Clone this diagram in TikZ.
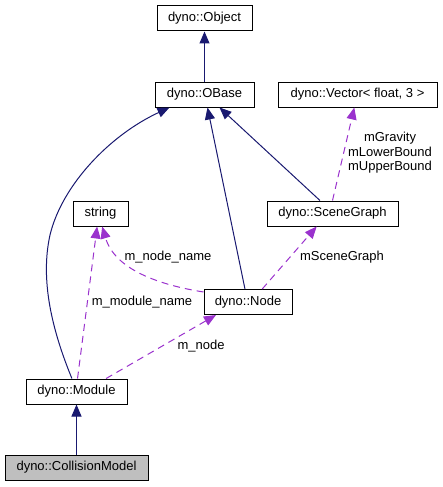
\documentclass[tikz,border=0pt]{standalone}
\usepackage{fontspec}
\setmainfont{Liberation Sans}
\usetikzlibrary{arrows.meta,calc}
\definecolor{edgeblue}{HTML}{191970}
\definecolor{edgepurple}{HTML}{9A32CD}
\begin{document}
\begin{tikzpicture}[x=1pt,y=-1pt,
  cls/.style={draw=black, line width=1pt, inner sep=0pt, minimum height=25pt, font=\fontsize{13}{15}\selectfont, fill=white},
  inh/.style={draw=edgeblue, line width=1pt, -{Triangle[length=12pt,width=10pt]}},
  use/.style={draw=edgepurple, line width=1pt, dash pattern=on 7pt off 5pt, -{Triangle[length=12pt,width=10pt]}},
  lbl/.style={font=\fontsize{13}{14.5}\selectfont, inner sep=0pt, align=center}
]
\useasboundingbox (0,0) rectangle (443,487);
\node[cls, minimum width=95pt] (obj) at (204.5,18.5) {dyno::Object};
\node[cls, minimum width=99pt] (obase) at (204.5,94.5) {dyno::OBase};
\node[cls, minimum width=159pt] (vec) at (357.5,94.5) {dyno::Vector< float, 3 >};
\node[cls, minimum width=55pt] (str) at (100.5,213.5) {string};
\node[cls, minimum width=131pt] (sg) at (332.5,213.5) {dyno::SceneGraph};
\node[cls, minimum width=88pt] (nd) at (248,302) {dyno::Node};
\node[cls, minimum width=101pt] (mod) at (76.5,391.5) {dyno::Module};
\node[cls, minimum width=143pt, fill=gray!50] (cm) at (76.5,467.5) {dyno::CollisionModel};

\draw[inh] (obase.north) -- (obj.south);
\draw[inh] (cm.north) -- (mod.south);
\draw[inh] ($(mod.north west)!0.455!(mod.north east)$) .. controls (52,330) and (40,280) .. (50,235) .. controls (62,185) and (110,135) .. ($(obase.south west)!0.15!(obase.south east)$);
\draw[inh] ($(nd.north west)!0.466!(nd.north east)$) -- ($(obase.south west)!0.53!(obase.south east)$);
\draw[inh] ($(sg.north west)!0.405!(sg.north east)$) -- ($(obase.south west)!0.65!(obase.south east)$);
\draw[use] (sg.north) -- ($(vec.south west)!0.48!(vec.south east)$);
\draw[use] ($(nd.north west)+(0,3)$) .. controls (160,285) and (115,270) .. ($(str.south west)!0.53!(str.south east)$);
\draw[use] ($(mod.north west)!0.51!(mod.north east)$) -- ($(str.south west)!0.44!(str.south east)$);
\draw[use] ($(mod.north west)!0.79!(mod.north east)$) -- ($(nd.south west)!0.14!(nd.south east)$);
\draw[use] ($(nd.north west)!0.66!(nd.north east)$) -- ($(sg.south west)!0.38!(sg.south east)$);

\node[lbl] (lvec) at (390,153) {mGravity\\mLowerBound\\mUpperBound};
\node[lbl] (lnn) at (168,257) {m\_node\_name};
\node[lbl] (lsg) at (342,257) {mSceneGraph};
\node[lbl] (lmn) at (142,302) {m\_module\_name};
\node[lbl] (lnd) at (201,346) {m\_node};
\end{tikzpicture}
\end{document}
